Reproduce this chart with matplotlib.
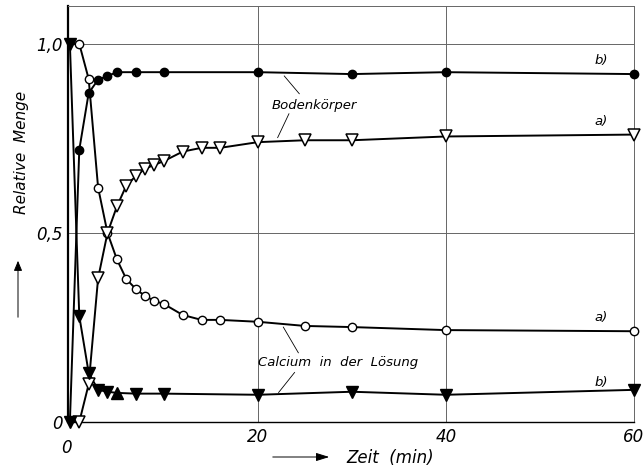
import numpy as np
import matplotlib
matplotlib.use("Agg")
from matplotlib import pyplot as plt

# Zeit in min, relative Menge
t_loes_a = [1, 2, 3, 4, 5, 6, 7, 8, 9, 10, 12, 14, 16, 20, 25, 30, 40, 60]
y_loes_a = [1.0, 0.907, 0.62, 0.50, 0.43, 0.378, 0.352, 0.333, 0.32, 0.312,
            0.283, 0.27, 0.27, 0.265, 0.254, 0.251, 0.243, 0.24]

t_boden_a = [1, 2, 3, 4, 5, 6, 7, 8, 9, 10, 12, 14, 16, 20, 25, 30, 40, 60]
y_boden_a = [0.0, 0.10, 0.38, 0.50, 0.57, 0.625, 0.65, 0.67, 0.68, 0.69,
             0.715, 0.725, 0.725, 0.74, 0.745, 0.745, 0.755, 0.76]

t_boden_b = [0, 1, 2, 3, 4, 5, 7, 10, 20, 30, 40, 60]
y_boden_b = [0.0, 0.72, 0.87, 0.905, 0.915, 0.925, 0.925, 0.925, 0.925, 0.92, 0.925, 0.92]

t_loes_b = [0, 1, 2, 3, 4, 5, 7, 10, 20, 30, 40, 60]
y_loes_b = [1.0, 0.28, 0.13, 0.085, 0.08, 0.077, 0.075, 0.075, 0.072, 0.08, 0.072, 0.085]
m_loes_b = ["v", "v", "v", "v", "v", "^", "v", "v", "v", "v", "v", "v"]

W, H = 644, 469
fig = plt.figure(figsize=(W / 100, H / 100), dpi=100)
ax = fig.add_axes([68 / W, 47 / H, 566 / W, 416 / H])
ax.set_xlim(-0.2, 60)
ax.set_ylim(0, 1.1)

font = dict(family="DejaVu Sans", style="italic")

# Gitter
for gx in (20, 40):
    ax.axvline(gx, color="#666666", lw=0.7, zorder=0)
for gy in (0.5, 1.0):
    ax.axhline(gy, color="#666666", lw=0.7, zorder=0)

for side in ("top", "right"):
    ax.spines[side].set_color("#666666")
    ax.spines[side].set_linewidth(0.7)
ax.spines["left"].set_linewidth(1.6)
ax.spines["bottom"].set_linewidth(1.0)

lw = 1.4
# a) Lösung, offene Kreise
ax.plot([0] + t_loes_a, [1.0] + y_loes_a, color="black", lw=lw, zorder=2)
ax.plot(t_loes_a, y_loes_a, "o", ms=6, mfc="white", mec="black", mew=1.0,
        zorder=3, clip_on=False)
# a) Bodenkörper, offene Dreiecke
ax.plot([0] + t_boden_a, [0.0] + y_boden_a, color="black", lw=lw, zorder=2)
ax.plot(t_boden_a, y_boden_a, "v", ms=9, mfc="white", mec="black", mew=1.1,
        zorder=3, clip_on=False)
# b) Bodenkörper, volle Kreise
ax.plot(t_boden_b, y_boden_b, color="black", lw=lw, zorder=2)
ax.plot(t_boden_b[1:], y_boden_b[1:], "o", ms=6, color="black", zorder=3, clip_on=False)
ax.plot(t_boden_b[:1], y_boden_b[:1], "v", ms=9, color="black", zorder=3, clip_on=False)
# b) Lösung, volle Dreiecke
ax.plot(t_loes_b, y_loes_b, color="black", lw=lw, zorder=2)
for tt, yy, mk in zip(t_loes_b, y_loes_b, m_loes_b):
    ax.plot(tt, yy, mk, ms=9, color="black", zorder=3, clip_on=False)

ax.set_xticks([20, 40, 60])
ax.set_xticklabels(["20", "40", "60"], fontsize=12, **font)
ax.set_yticks([0, 0.5, 1.0])
ax.set_yticklabels(["0", "0,5", "1,0"], fontsize=12, **font)
ax.tick_params(length=0, pad=4)
ax.text(-0.4, -0.045, "0", fontsize=12, ha="center", va="top", **font)

# Kurvenbezeichnungen
for yy, s in ((0.955, "b)"), (0.795, "a)"), (0.275, "a)"), (0.105, "b)")):
    ax.text(56.5, yy, s, fontsize=9.5, ha="center", va="center", **font)

ax.text(26.0, 0.838, "Bodenkörper", fontsize=9.5, ha="center", va="center", **font)
ax.plot([22.8, 24.4], [0.915, 0.868], color="black", lw=0.6)
ax.plot([23.3, 22.1], [0.815, 0.752], color="black", lw=0.6)

ax.text(28.5, 0.157, "Calcium  in  der  Lösung", fontsize=9.5, ha="center", va="center", **font)
ax.plot([22.7, 24.3], [0.251, 0.183], color="black", lw=0.6)
ax.plot([23.9, 22.2], [0.131, 0.078], color="black", lw=0.6)

# Achsenbeschriftungen mit Pfeilen
fig.text(22 / W, 1 - 152 / H, "Relative  Menge", rotation=90, fontsize=11,
         ha="center", va="center", **font)
fig.add_artist(matplotlib.patches.FancyArrowPatch(
    (18 / W, 1 - 320 / H), (18 / W, 1 - 258 / H), transform=fig.transFigure,
    arrowstyle="-|>,head_length=6,head_width=2.5", lw=0.7, color="black"))
fig.text(346 / W, 1 - 458 / H, "Zeit  (min)", fontsize=12, ha="left", va="center", **font)
fig.add_artist(matplotlib.patches.FancyArrowPatch(
    (270 / W, 1 - 457 / H), (332 / W, 1 - 457 / H), transform=fig.transFigure,
    arrowstyle="-|>,head_length=8,head_width=2.5", lw=0.7, color="black"))

fig.savefig("out.png", dpi=100)
